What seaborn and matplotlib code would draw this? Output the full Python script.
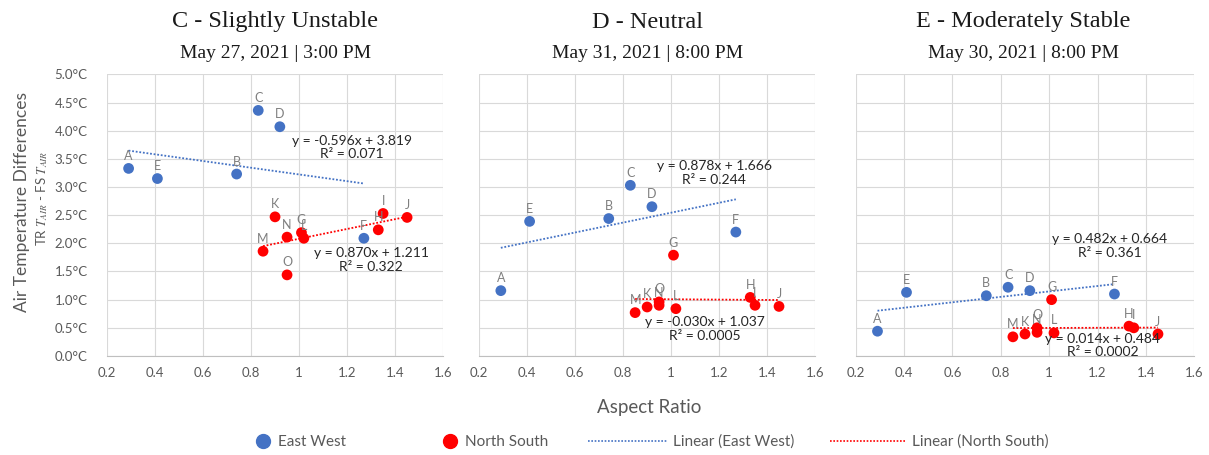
import numpy as np
import pandas as pd
import matplotlib
matplotlib.use("Agg")
import matplotlib.pyplot as plt
from matplotlib.lines import Line2D
import seaborn as sns

# site labels and aspect ratios
ew_sites = ["A", "B", "C", "D", "E", "F"]
ew_ratio = [0.29, 0.74, 0.83, 0.92, 0.41, 1.27]
ns_sites = ["G", "H", "I", "J", "K", "L", "M", "N", "O"]
ns_ratio = [1.01, 1.33, 1.35, 1.45, 0.90, 1.02, 0.85, 0.95, 0.95]

# temperature differences (°C) per stability case
ew_c = [3.33, 3.23, 4.36, 4.07, 3.15, 2.09]
ns_c = [2.19, 2.24, 2.53, 2.46, 2.47, 2.09, 1.86, 2.11, 1.44]
ew_d = [1.16, 2.44, 3.03, 2.65, 2.39, 2.20]
ns_d = [1.79, 1.04, 0.90, 0.88, 0.87, 0.84, 0.77, 0.90, 0.96]
ew_e = [0.44, 1.07, 1.22, 1.16, 1.13, 1.10]
ns_e = [1.00, 0.53, 0.50, 0.39, 0.39, 0.41, 0.34, 0.42, 0.50]

# trendline coefficients as printed on the chart
ew_fit = [(-0.596, 3.819, "0.071"), (0.878, 1.666, "0.244"), (0.482, 0.664, "0.361")]
ns_fit = [(0.870, 1.211, "0.322"), (-0.030, 1.037, "0.0005"), (0.014, 0.484, "0.0002")]

titles = ["C - Slightly Unstable", "D - Neutral", "E - Moderately Stable"]
subtitles = ["May 27, 2021 | 3:00 PM", "May 31, 2021 | 8:00 PM", "May 30, 2021 | 8:00 PM"]

# where the equation labels sit (data coords): ew x, ew y, ns x, ns y
eq_pos = [(1.22, 3.70, 1.30, 1.70), (1.18, 3.25, 1.14, 0.48), (1.25, 1.95, 1.22, 0.19)]

BLUE = "#4472C4"
RED = "#FF0000"
GREY = "#595959"

sns.set_style("white")
plt.rcParams["font.family"] = ["Lato", "DejaVu Sans"]
plt.rcParams["mathtext.fontset"] = "stix"

fig = plt.figure(figsize=(12.09, 4.55), dpi=100)
lefts = [0.0885, 0.3964, 0.7078]
widths = [0.278, 0.2777, 0.280]
ew_vals = [ew_c, ew_d, ew_e]
ns_vals = [ns_c, ns_d, ns_e]

for i in range(3):
    ax = fig.add_axes([lefts[i], 0.2176, widths[i], 0.619])
    df = pd.DataFrame({
        "ratio": ew_ratio + ns_ratio,
        "diff": ew_vals[i] + ns_vals[i],
        "site": ew_sites + ns_sites,
        "orient": ["East West"] * len(ew_sites) + ["North South"] * len(ns_sites),
    })

    # trendlines
    for (m, b, r2), xs, col in [(ew_fit[i], ew_ratio, BLUE), (ns_fit[i], ns_ratio, RED)]:
        xx = np.array([min(xs), max(xs)])
        ax.plot(xx, m * xx + b, color=col, lw=1.3, ls=(0, (1, 1)), zorder=2)

    sns.scatterplot(data=df, x="ratio", y="diff", hue="orient",
                    palette={"East West": BLUE, "North South": RED},
                    s=60, edgecolor="none", legend=False, ax=ax, zorder=3)

    for _, row in df.iterrows():
        ax.annotate(row["site"], (row["ratio"], row["diff"]), xytext=(0, 9),
                    textcoords="offset points", ha="center", va="center",
                    fontsize=9, color="#7F7F7F", zorder=4)

    ex, ey, nx, ny = eq_pos[i]
    for (m, b, r2), x0, y0 in [(ew_fit[i], ex, ey), (ns_fit[i], nx, ny)]:
        sign = "+" if b >= 0 else "-"
        ax.text(x0, y0, f"y = {m:.3f}x {sign} {abs(b):.3f}\nR² = {r2}",
                ha="center", va="center", fontsize=10, color="#262626",
                linespacing=1.15, zorder=5, clip_on=False)

    ax.set_xlim(0.2, 1.6)
    ax.set_ylim(0, 5)
    xt = np.round(np.arange(0.2, 1.61, 0.2), 1)
    ax.set_xticks(xt)
    ax.set_xticklabels([("%g" % v) for v in xt], color=GREY, fontsize=9.5)
    yt = np.round(np.arange(0, 5.01, 0.5), 1)
    ax.set_yticks(yt)
    if i == 0:
        ax.set_yticklabels([f"{v:.1f}°C" for v in yt], color=GREY, fontsize=9.5)
    else:
        ax.set_yticklabels([])
    ax.tick_params(length=0, pad=8)
    ax.tick_params(axis="y", pad=14)
    ax.grid(True, color="#D9D9D9", lw=0.8)
    for s in ["top", "right", "left"]:
        ax.spines[s].set_visible(False)
    ax.spines["bottom"].set_color("#BFBFBF")
    ax.set_xlabel("")
    ax.set_ylabel("")

    cx = [275.5, 648, 1023][i] / 1209
    fig.text(cx, 1 - 22 / 455, titles[i], ha="center", va="center",
             fontsize=17.5, family="Liberation Serif", color="#1A1A1A")
    fig.text(cx, 1 - 53 / 455, subtitles[i], ha="center", va="center",
             fontsize=14, family="Liberation Serif", color="#1A1A1A")

fig.text(22 / 1209, 1 - 202 / 455, "Air Temperature Differences", rotation=90,
         ha="center", va="center", fontsize=12.5, color=GREY)
fig.text(42 / 1209, 1 - 198 / 455, r"TR $T_{AIR}$ - FS $T_{AIR}$", rotation=90,
         ha="center", va="center", fontsize=9.5, color=GREY)
fig.text(649 / 1209, 1 - 408 / 455, "Aspect Ratio", ha="center", va="center",
         fontsize=13.5, color=GREY)

# legend entries, each placed where it sits in the original
items = [
    (Line2D([], [], marker="o", ls="none", color=BLUE, markersize=10), "East West", 255.5, 1.0, 0.5),
    (Line2D([], [], marker="o", ls="none", color=RED, markersize=10), "North South", 442.5, 1.0, 0.5),
    (Line2D([], [], color=BLUE, lw=1.2, ls=(0, (1, 1))), "Linear (East West)", 588, 5.2, 0.35),
    (Line2D([], [], color=RED, lw=1.2, ls=(0, (1, 1))), "Linear (North South)", 830, 5.0, 0.4),
]
for h, lab, xpx, hl, tp in items:
    leg = fig.legend(handles=[h], labels=[lab], loc="center left",
                     bbox_to_anchor=(xpx / 1209, 1 - 442 / 455), frameon=False,
                     fontsize=11, handlelength=hl, handletextpad=tp,
                     borderpad=0, borderaxespad=0)
    for t in leg.get_texts():
        t.set_color(GREY)

fig.savefig("out.png", dpi=100)
